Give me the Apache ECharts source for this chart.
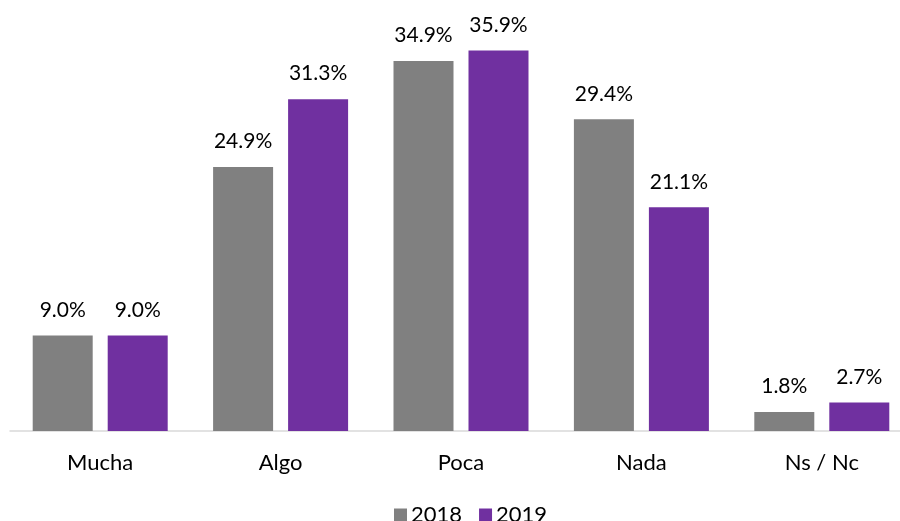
<!DOCTYPE html>
<html>
<head>
<meta charset="utf-8">
<script src="https://cdn.jsdelivr.net/npm/echarts@6/dist/echarts.min.js"></script>
<style>html,body{margin:0;padding:0;background:#fff;overflow:hidden}#c{width:912px;height:521px}</style>
</head>
<body>
<div id="c"></div>
<script>
const categories = ['Mucha', 'Algo', 'Poca', 'Nada', 'Ns / Nc'];
const seriesNames = ['2018', '2019'];
const values2018 = [9.0, 24.9, 34.9, 29.4, 1.8];
const values2019 = [9.0, 31.3, 35.9, 21.1, 2.7];
const colors = ['#808080', '#7030A0'];

const font = 'Lato, Calibri, Carlito, sans-serif';
const chart = echarts.init(document.getElementById('c'), null, {renderer: 'canvas'});
const labelCfg = {
  show: true, position: 'top', distance: 15,
  color: '#000', fontFamily: font, fontSize: 21,
  formatter: p => p.value.toFixed(1) + '%'
};
chart.setOption({
  animation: false,
  color: colors,
  grid: {left: 10, right: 0, top: 7, bottom: 90, containLabel: false},
  legend: {
    top: 499, left: 389, itemWidth: 13, itemHeight: 13, itemGap: 17,
    icon: 'rect',
    textStyle: {fontFamily: font, fontSize: 22, color: '#000', padding: [0, 0, 0, -1]},
    data: seriesNames
  },
  xAxis: {
    type: 'category', data: categories,
    axisLine: {lineStyle: {color: '#d9d9d9', width: 1.5}},
    axisTick: {show: false},
    axisLabel: {color: '#000', fontFamily: font, fontSize: 22, margin: 21}
  },
  yAxis: {type: 'value', min: 0, max: 40, show: false, splitLine: {show: false}},
  series: [
    {name: seriesNames[0], type: 'bar', data: values2018, barWidth: 60, barGap: '25%', label: labelCfg},
    {name: seriesNames[1], type: 'bar', data: values2019, barWidth: 60, barGap: '25%', label: labelCfg}
  ]
});
</script>
</body>
</html>
